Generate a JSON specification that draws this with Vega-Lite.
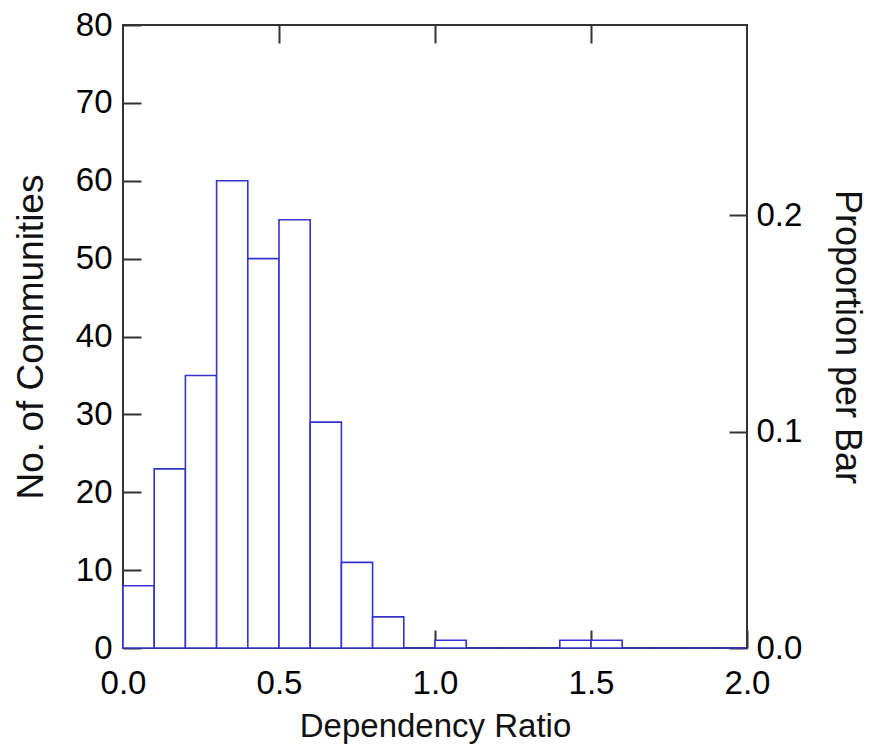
{
  "$schema": "https://vega.github.io/schema/vega-lite/v6.json",
  "width": 624,
  "height": 623,
  "autosize": {"type": "none"},
  "padding": {"left": 123, "top": 25, "right": 124, "bottom": 103},
  "background": "white",
  "config": {
    "view": {"stroke": "#333333", "strokeWidth": 2},
    "axis": {
      "domain": false,
      "grid": false,
      "ticks": true,
      "tickColor": "#333333",
      "tickWidth": 2,
      "tickSize": -18,
      "zindex": 1,
      "labelFlush": false,
      "labelOverlap": false,
      "labelFont": "Liberation Sans",
      "labelFontSize": 33,
      "labelColor": "#000000",
      "titleFont": "Liberation Sans",
      "titleFontSize": 37,
      "titleFontWeight": "normal",
      "titleColor": "#111111"
    }
  },
  "data": {
    "values": [
      {"bin_start": 0.0, "bin_end": 0.1, "count": 8, "prop": 0.0288},
      {"bin_start": 0.1, "bin_end": 0.2, "count": 23, "prop": 0.0827},
      {"bin_start": 0.2, "bin_end": 0.3, "count": 35, "prop": 0.1259},
      {"bin_start": 0.3, "bin_end": 0.4, "count": 60, "prop": 0.2158},
      {"bin_start": 0.4, "bin_end": 0.5, "count": 50, "prop": 0.1799},
      {"bin_start": 0.5, "bin_end": 0.6, "count": 55, "prop": 0.1978},
      {"bin_start": 0.6, "bin_end": 0.7, "count": 29, "prop": 0.1043},
      {"bin_start": 0.7, "bin_end": 0.8, "count": 11, "prop": 0.0396},
      {"bin_start": 0.8, "bin_end": 0.9, "count": 4, "prop": 0.0144},
      {"bin_start": 0.9, "bin_end": 1.0, "count": 0, "prop": 0.0},
      {"bin_start": 1.0, "bin_end": 1.1, "count": 1, "prop": 0.0036},
      {"bin_start": 1.1, "bin_end": 1.2, "count": 0, "prop": 0.0},
      {"bin_start": 1.2, "bin_end": 1.3, "count": 0, "prop": 0.0},
      {"bin_start": 1.3, "bin_end": 1.4, "count": 0, "prop": 0.0},
      {"bin_start": 1.4, "bin_end": 1.5, "count": 1, "prop": 0.0036},
      {"bin_start": 1.5, "bin_end": 1.6, "count": 1, "prop": 0.0036},
      {"bin_start": 1.6, "bin_end": 1.7, "count": 0, "prop": 0.0},
      {"bin_start": 1.7, "bin_end": 1.8, "count": 0, "prop": 0.0},
      {"bin_start": 1.8, "bin_end": 1.9, "count": 0, "prop": 0.0},
      {"bin_start": 1.9, "bin_end": 2.0, "count": 0, "prop": 0.0}
    ]
  },
  "layer": [
    {
      "mark": {"type": "bar", "fill": "white", "stroke": "#3434cc", "strokeWidth": 1.6},
      "encoding": {
        "x": {
          "field": "bin_start", "type": "quantitative",
          "scale": {"domain": [0, 2], "nice": false, "zero": false},
          "axis": {"orient": "bottom", "values": [0, 0.5, 1, 1.5, 2], "format": ".1f", "title": "Dependency Ratio", "titleFontSize": 33, "labelPadding": 37, "titlePadding": 10}
        },
        "x2": {"field": "bin_end"},
        "y": {
          "field": "count", "type": "quantitative", "stack": null,
          "scale": {"domain": [0, 80], "nice": false},
          "axis": {"orient": "left", "values": [0, 10, 20, 30, 40, 50, 60, 70, 80], "title": "No. of Communities", "labelPadding": 29, "titlePadding": 25}
        },
        "y2": {"datum": 0}
      }
    },
    {
      "mark": {"type": "bar", "opacity": 0},
      "encoding": {
        "x": {
          "field": "bin_start", "type": "quantitative",
          "scale": {"domain": [0, 2], "nice": false, "zero": false},
          "axis": {"orient": "top", "values": [0.5, 1, 1.5], "labels": false, "title": null}
        },
        "x2": {"field": "bin_end"},
        "y": {
          "field": "prop", "type": "quantitative", "stack": null,
          "scale": {"domain": [0, 0.28777], "nice": false},
          "axis": {"orient": "right", "values": [0, 0.1, 0.2], "format": ".1f", "title": "Proportion per Bar", "titleFontSize": 36, "titleAngle": 90, "labelPadding": 27, "titlePadding": 26}
        },
        "y2": {"datum": 0}
      }
    }
  ],
  "resolve": {"scale": {"x": "independent", "y": "independent"}}
}
